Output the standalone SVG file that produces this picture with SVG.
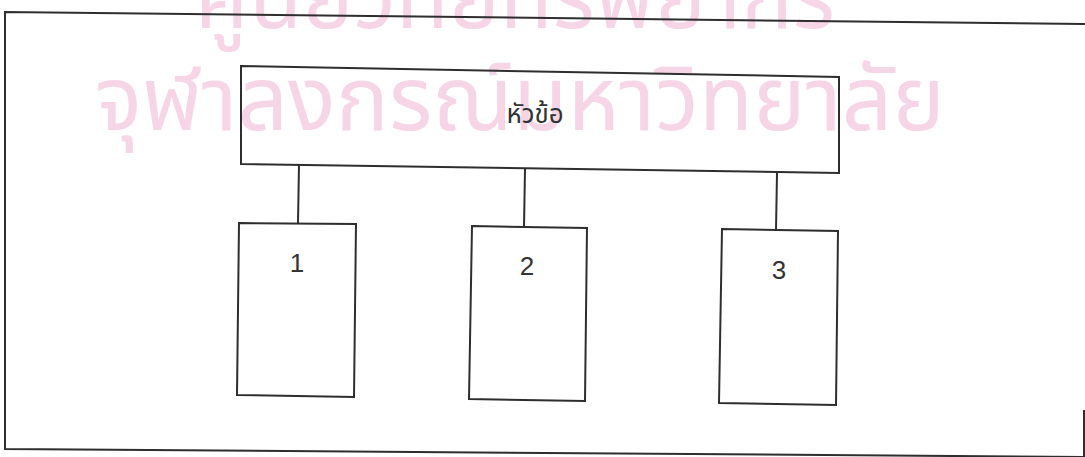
<svg xmlns="http://www.w3.org/2000/svg" width="1085" height="457" viewBox="0 0 1085 457">
<style>
.ln{fill:none;stroke:#2e2e2e;stroke-width:2;stroke-linejoin:miter}
.lbl{font-family:"Liberation Sans",Arial,sans-serif;font-size:26px;fill:#333;text-anchor:middle}
.th{font-family:"Noto Sans Thai","Liberation Sans","DejaVu Sans",sans-serif;fill:#333;text-anchor:middle}
.wm{font-family:"Noto Sans Thai","DejaVu Sans",sans-serif;fill:#f6d6e6;text-anchor:middle}
</style>
<rect width="1085" height="457" fill="#ffffff"/>
<g id="watermark">
<text class="wm" x="515" y="28" font-size="90" textLength="640" lengthAdjust="spacingAndGlyphs">ศูนย์วิทยทรัพยากร</text>
<text class="wm" x="520" y="130" font-size="90" textLength="850" lengthAdjust="spacingAndGlyphs">จุฬาลงกรณ์มหาวิทยาลัย</text>
</g>
<g id="frame">
<path class="ln" d="M1085,24 L5,12 L5,449 L1085,457"/>
<path class="ln" d="M1084,410 L1084,457"/>
</g>
<g id="connectors">
<path class="ln" d="M299,165 L298,223"/>
<path class="ln" d="M525,169 L524,227"/>
<path class="ln" d="M777,173 L776,230"/>
</g>
<g id="node-topic">
<path class="ln" d="M241,66 L839,77 L839,173 L241,164 Z"/>
<text class="th" x="535" y="123" font-size="26">หัวข้อ</text>
</g>
<g id="node-1">
<path class="ln" d="M239,223 L356,224 L354,397 L237,395 Z"/>
<text class="lbl" x="297" y="272">1</text>
</g>
<g id="node-2">
<path class="ln" d="M472,226 L587,228 L585,401 L469,399 Z"/>
<text class="lbl" x="527" y="275">2</text>
</g>
<g id="node-3">
<path class="ln" d="M722,229 L838,231 L836,405 L719,403 Z"/>
<text class="lbl" x="779" y="279">3</text>
</g>
</svg>
